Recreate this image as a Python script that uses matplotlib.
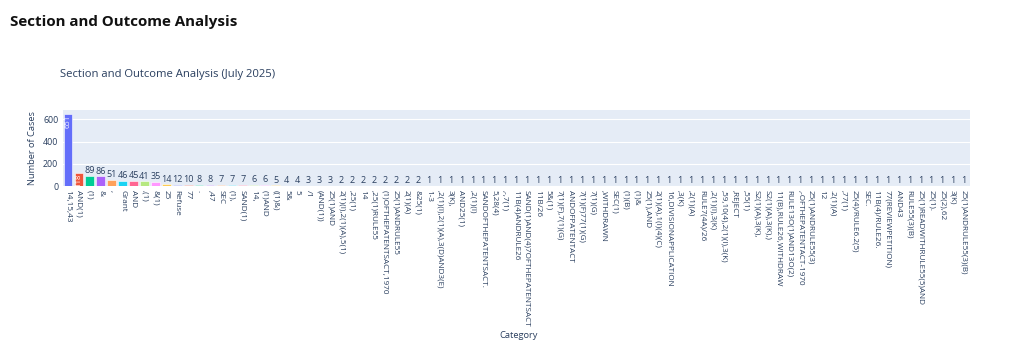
import numpy as np
import matplotlib
matplotlib.use("Agg")
import matplotlib.pyplot as plt

plt.rcParams['font.family'] = ['Open Sans', 'DejaVu Sans']

#categories and counts
categories = [
	"14,15,43", "AND(1)", "(1)", "&", ",", "Grant", "AND", ",(1)", "&(1)", "25",
	"Refuse", "77", ".", ",47", "SEC", "(1),", "SAND(1)", "14,", "(1)AND", "((1)&)",
	"5&", "5", "/1", "(AND(1))", "25(1)AND", "2(1)(I),2(1)(A),5(1)", ",25(1)", "14",
	",25(1)RULE55", "(1)OFTHEPATENTSACT,1970", "25(1)ANDRULE55", "2(1)(A)", "&25(1)",
	"1-3", ",2(1)(I),2(1)(A),3(D)AND3(E)", "3(K),", "AND25(1)", ",2(1)(I)",
	"SANDOFTHEPATENTSACT.", "5,28(4)", ",-,7(1)", "11B(4)ANDRULE26",
	"SAND(1)AND(4)7OFTHEPATENTSACT", "11B/26", "5&(1)", "7(1)(F),7(1)(G)",
	"ANDOFPATENTACT", "7(1)(F)77(1)(G)", "7(1)(G)", ",WITHDRAWN", "SEC(1)", "(1)(B)",
	"(1)&", "25(1),AND", "2(1)(A),1(I)(4)(C)", "16,DIVISIONAPPLICATION", ",3(K)",
	",2(1)(A)", "RULE7(4A)/26", ",2(1)(I),3(K)", ",59,10(4),2(1)(I),3(K)", ",REJECT",
	",55(1)", "S2(1)(A),3(K),", "S2(1)(A),3(K),)", "11(B),RULE26,WITHDRAW",
	"RULE13O(1)AND13O(2)", ",-OFTHEPATENTACT-1970", "25(1)ANDRULE55(3)", "12",
	".2(1)(A)", ",77(1)", "25(4)/RULE6.2(5)", "SEC.", "11B(4)/RULE26.",
	"77(REVIEWPETITION)", "AND43", "RULE55(3)(B)", "25(1)READWITHRULE55(5)AND",
	"25(1).", "25(2),62", "3(K)", "25(1)ANDRULE55(3)(B)",
]
head_counts = [651, 118, 89, 86, 51, 46, 45, 41, 35, 14, 12, 10, 8, 8, 7, 7, 7, 6, 6, 5,
	4, 4, 3, 3, 3, 2, 2, 2, 2, 2, 2, 2, 2]
counts = head_counts + [1] * (len(categories) - len(head_counts))

palette = ['#636EFA', '#EF553B', '#00CC96', '#AB63FA', '#FFA15A',
	'#19D3F3', '#FF6692', '#B6E880', '#FF97FF', '#FECB52']
txt = '#2a3f5f'

fig = plt.figure(figsize=(10.24, 3.46), dpi=100)
ax = fig.add_axes([62.5/1024, 1-186/346, 907/1024, 76/346])
ax.set_facecolor('#E5ECF6')

x = np.arange(len(categories))
colors = [palette[i % len(palette)] for i in range(len(categories))]
ax.bar(x, counts, width=0.8, color=colors, edgecolor='white', linewidth=0.4, zorder=3)

ymax = 685
for i, v in enumerate(counts):
	if v > 0.15*ymax:
		ax.text(i, v - 8, str(v), rotation=90, ha='center', va='top',
			fontsize=5.5, color='white', zorder=4)
	elif v > 100:
		ax.text(i, v - 6, str(v), rotation=90, ha='center', va='top',
			fontsize=4, color='#7a1a0a', zorder=4)
	else:
		ax.text(i, v + 8, str(v), ha='center', va='bottom',
			fontsize=6.5, color=txt, zorder=4)

ax.set_xlim(-0.5, len(categories) - 0.5)
ax.set_ylim(0, ymax)
ax.set_yticks([0, 200, 400, 600])
ax.grid(axis='y', color='white', linewidth=0.8, zorder=0)
ax.set_xticks(x)
ax.set_xticklabels(categories, rotation=-90, fontsize=5.9, color=txt)
ax.tick_params(axis='y', labelsize=6.4, colors=txt, length=0, pad=3)
ax.tick_params(axis='x', length=0, pad=3)
for s in ax.spines.values():
	s.set_visible(False)

ax.set_ylabel("Number of Cases", fontsize=6.7, color=txt, labelpad=4)
fig.text(519/1024, 1-336/346, "Category", ha='center', va='center', fontsize=6.7, color=txt)
fig.text(60/1024, 1-74/346, "Section and Outcome Analysis (July 2025)", ha='left', va='center',
	fontsize=8.1, color=txt)
fig.text(10/1024, 1-22/346, "Section and Outcome Analysis", ha='left', va='center',
	fontsize=10.9, fontweight='bold', color='#111111')

fig.savefig('out.png', dpi=100, facecolor='white')
